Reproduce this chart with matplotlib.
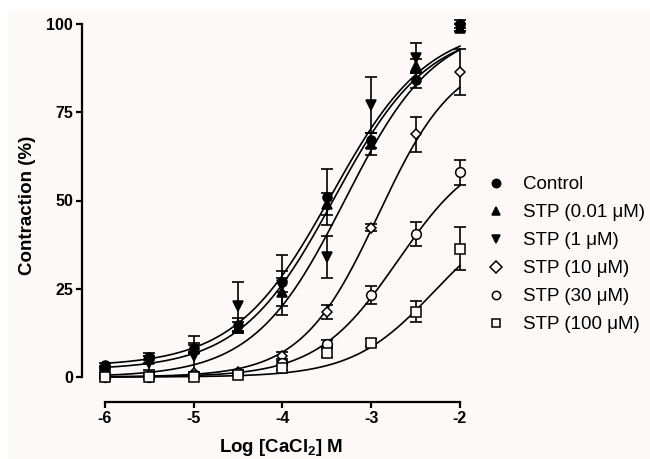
import numpy as np
import matplotlib
matplotlib.use("Agg")
import matplotlib.pyplot as plt
from matplotlib.patches import Rectangle

plt.rcParams['font.family'] = ['Liberation Sans', 'DejaVu Sans']
plt.rcParams['mathtext.fontset'] = 'custom'
plt.rcParams['mathtext.bf'] = 'Liberation Sans:bold'
plt.rcParams['mathtext.rm'] = 'Liberation Sans:bold'
plt.rcParams['mathtext.default'] = 'bf'

# ---- data ----
log_ca = [-6, -5.5, -5, -4.5, -4, -3.5, -3, -2.5, -2]

labels = ["Control", "STP (0.01 \u03bcM)", "STP (1 \u03bcM)",
          "STP (10 \u03bcM)", "STP (30 \u03bcM)", "STP (100 \u03bcM)"]

control_mean = [3.5, 5.7, 8.2, 14.8, 27, 51, 67, 84, 100]
control_err = [0.5, 1, 1.5, 2, 3, 8, 2, 2, 1]
stp001_mean = [2.5, 5, 8, 14, 24, 49, 66, 88, 99]
stp001_err = [0.5, 1, 1, 1.5, 4, 3, 3, 2, 1]
stp1_mean = [1.5, 4, 6, 20, 26, 34, 77, 90.5, 99]
stp1_err = [1, 2, 5.5, 7, 8.5, 6, 8, 4, 1]
stp10_mean = [0.5, 0.5, 1, 1.5, 6, 18.5, 42.3, 68.7, 86.5]
stp10_err = [0.5, 0.5, 0.5, 0.5, 1, 2, 1, 5, 6.5]
stp30_mean = [0, 0, 0.5, 1, 4, 9.4, 23.3, 40.5, 58]
stp30_err = [0.5, 0.5, 0.5, 0.5, 0.5, 1, 2.5, 3.5, 3.5]
stp100_mean = [0, 0, 0, 0.5, 2.5, 6.8, 9.7, 18.5, 36.4]
stp100_err = [0.3, 0.3, 0.3, 0.3, 0.5, 1, 1, 3, 6]

# fitted Hill curve parameters: bottom, top, logEC50, hill slope
fit_bottom = [3, 2, 0, 0, 0, 0]
fit_top = [100, 99, 100, 92, 66, 48]
fit_logec50 = [-3.45, -3.42, -3.3, -2.92, -2.7, -2.3]
fit_slope = [0.8, 0.82, 0.85, 1.0, 0.95, 0.95]

means = [control_mean, stp001_mean, stp1_mean, stp10_mean, stp30_mean, stp100_mean]
errs = [control_err, stp001_err, stp1_err, stp10_err, stp30_err, stp100_err]

bg = '#fcf9f8'
markers = ['o', '^', 'v', 'D', 'o', 's']
fills = ['black', 'black', 'black', bg, bg, bg]
msizes = [6.5, 6.5, 6.5, 5.5, 7, 7]

fig = plt.figure(figsize=(6.5, 4.59), dpi=100)
fig.patch.set_facecolor('white')
fig.patches.append(Rectangle((8/650, 0), 1, 448/459, transform=fig.transFigure,
                             facecolor=bg, edgecolor='none', zorder=-10))

ax = fig.add_axes([105/650, 82/459, 355/650, 353/459])
ax.set_facecolor('none')

xs = np.linspace(-6, -2, 300)
for i in range(6):
    b, t, e, h = fit_bottom[i], fit_top[i], fit_logec50[i], fit_slope[i]
    ys = b + (t - b) / (1 + 10 ** ((e - xs) * h))
    ax.plot(xs, ys, color='black', lw=1.2, zorder=2, clip_on=False)

handles = []
for i in range(6):
    ax.errorbar(log_ca, means[i], yerr=errs[i], fmt='none', ecolor='black',
                elinewidth=1.2, capsize=4, capthick=1.2, zorder=3, clip_on=False)
    hnd, = ax.plot(log_ca, means[i], linestyle='none', marker=markers[i],
                   markersize=msizes[i], markerfacecolor=fills[i], markeredgecolor='black',
                   markeredgewidth=1.1, zorder=4, clip_on=False, label=labels[i])
    handles.append(hnd)

ax.set_xlim(-6, -2)
ax.set_ylim(0, 100)
ax.set_xticks([-6, -5, -4, -3, -2])
ax.set_yticks([0, 25, 50, 75, 100])
ax.set_xticklabels(['-6', '-5', '-4', '-3', '-2'])

for s in ['top', 'right']:
    ax.spines[s].set_visible(False)
ax.spines['left'].set_position(('outward', 16.5))
ax.spines['bottom'].set_position(('outward', 18))
for s in ['left', 'bottom']:
    ax.spines[s].set_linewidth(1.6)
ax.tick_params(direction='out', length=4.5, width=1.6, labelsize=11.5, pad=2)
for lab in ax.get_xticklabels() + ax.get_yticklabels():
    lab.set_fontweight('bold')

fig.text(28/650, 1 - 205/459, 'Contraction (%)', rotation=90, ha='center', va='center',
         fontsize=13.5, fontweight='bold')
fig.text(281/650, 1 - 447/459, r'Log [CaCl$_{2}$] M', ha='center', va='center',
         fontsize=13.5, fontweight='bold')

leg = fig.legend(handles=handles, labels=labels, loc='upper left',
                 bbox_to_anchor=(487/650, 1 - 176/459), frameon=False,
                 fontsize=13.5, handlelength=1.0, handletextpad=0.9,
                 labelspacing=0.58, borderpad=0, borderaxespad=0)
for h in leg.legend_handles:
    h.set_markersize(6)

fig.savefig('out.png', dpi=100, facecolor=fig.get_facecolor())
